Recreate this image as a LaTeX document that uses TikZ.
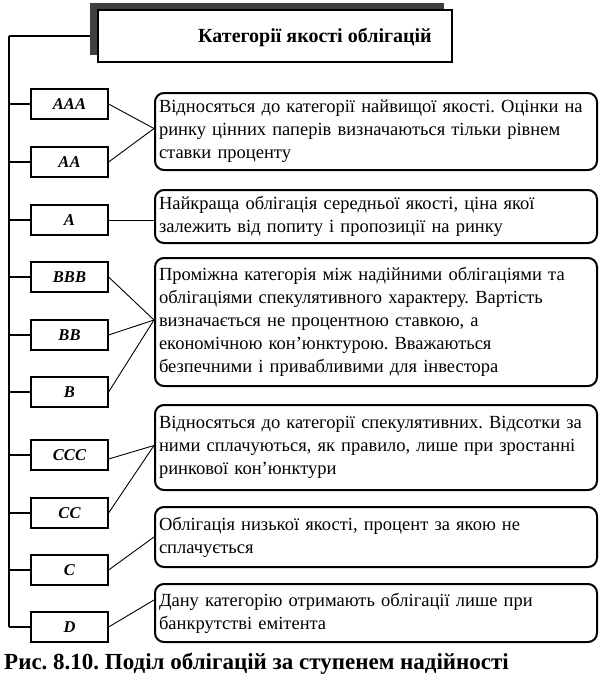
\documentclass[tikz,border=0pt]{standalone}
\usepackage{fontspec}
\setmainfont{Liberation Serif}
\frenchspacing
\begin{document}
\begin{tikzpicture}[x=1pt,y=-1pt,
  cat/.style={draw, line width=1.2pt, minimum width=77pt, minimum height=30pt, inner sep=0pt, font=\fontsize{16.5}{19}\selectfont\bfseries\itshape},
  desc/.style={draw, line width=2pt, rounded corners=9pt, text width=434pt, inner xsep=4pt, inner ysep=0pt, align=left, font=\fontsize{18.5}{23}\selectfont},
  link/.style={line width=0.9pt},
  trunk/.style={line width=1.5pt}]
\useasboundingbox (0,0) rectangle (603,689);
% title with shadow
\fill[black!75] (90,3) rectangle (444,55);
\coordinate (vx) at (9,36);
\draw[trunk] (90,36) -- (vx);
\node[draw, line width=1.8pt, fill=white, minimum width=354pt, minimum height=52pt] (title) at (275,36) {};
\node[inner sep=0pt, font=\fontsize{20}{23}\selectfont\bfseries] (titletext) at (315,37) {Категорії якості облігацій};
% categories
\node[cat] (AAA) at (69.5,104) {AAA};
\node[cat] (AA)  at (69.5,162) {AA};
\node[cat] (A)   at (69.5,220) {A};
\node[cat] (BBB) at (69.5,277) {BBB};
\node[cat] (BB)  at (69.5,335) {BB};
\node[cat] (B)   at (69.5,392) {B};
\node[cat] (CCC) at (69.5,455) {CCC};
\node[cat] (CC)  at (69.5,513) {CC};
\node[cat] (C)   at (69.5,570) {C};
\node[cat] (D)   at (69.5,627) {D};
% trunk
\draw[trunk] (vx) -- (vx |- D.west);
\foreach \n in {AAA,AA,A,BBB,BB,B,CCC,CC,C,D}
  \draw[trunk] (\n.west) -- (\n.west -| vx);
% descriptions
\node[desc, minimum height=77pt] (r1) at (376,131.5) {Відносяться до категорії найвищої якості. Оцінки на\\ринку цінних паперів визначаються тільки рівнем\\ставки проценту};
\node[desc, minimum height=53pt] (r2) at (376,216.5) {Найкраща облігація середньої якості, ціна якої\\залежить від попиту і пропозиції на ринку};
\node[desc, minimum height=128pt] (r3) at (376,322) {Проміжна категорія між надійними облігаціями та\\облігаціями спекулятивного характеру. Вартість\\визначається не процентною ставкою, а\\економічною кон’юнктурою. Вважаються\\безпечними і привабливими для інвестора};
\node[desc, minimum height=85pt] (r4) at (376,447.5) {Відносяться до категорії  спекулятивних. Відсотки за\\ними сплачуються, як правило, лише при зростанні\\ринкової кон’юнктури};
\node[desc, minimum height=60pt] (r5) at (376,537) {Облігація низької якості, процент за якою не\\сплачується};
\node[desc, minimum height=58pt] (r6) at (376,613) {Дану категорію отримають облігації лише при\\банкрутстві емітента};
% links
\coordinate (p1) at ([yshift=3pt]r1.west);
\draw[link] (AAA.east) -- (p1);
\draw[link] (AA.east) -- (p1);
\draw[link] (A.east) -- (A.east -| r2.west);
\coordinate (p3) at ([yshift=2pt]r3.west);
\draw[link] (BBB.east) -- (p3);
\draw[link] (BB.east) -- (p3);
\draw[link] (B.east) -- (p3);
\coordinate (p4) at ([yshift=2pt]r4.west);
\draw[link] ([yshift=-4pt]CCC.east) -- (p4);
\draw[link] (CC.east) -- (p4);
\draw[link] (C.east) -- (r5.west);
\coordinate (p6) at ([yshift=13pt]r6.west);
\draw[link] (D.east) -- (p6);
% caption
\node[anchor=west, inner sep=0pt, font=\fontsize{23}{26}\selectfont\bfseries] (cap) at (4,664) {Рис. 8.10. Поділ облігацій за ступенем надійності};
\end{tikzpicture}
\end{document}
